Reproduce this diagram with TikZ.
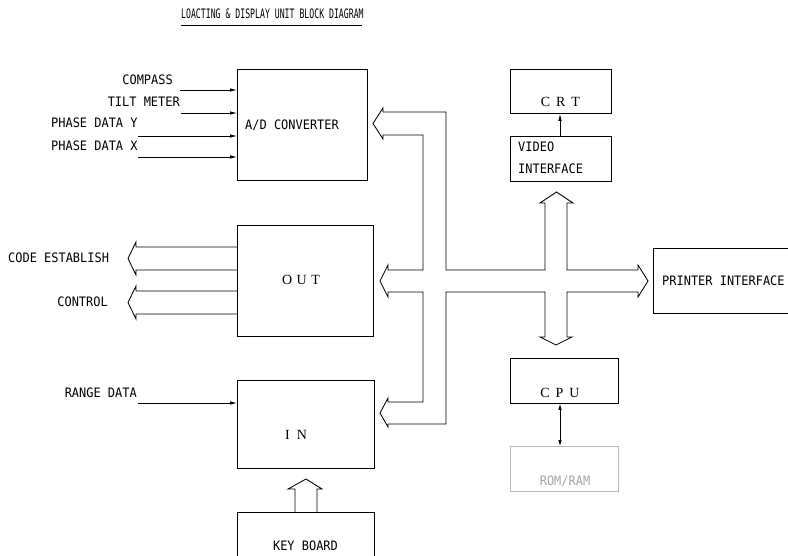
\documentclass[tikz,border=0pt]{standalone}
\usepackage{fontspec}
\setmainfont{Liberation Serif}
\newfontfamily\labfont[FakeStretch=0.92]{DejaVu Sans Mono}
\newfontfamily\titfont[FakeStretch=0.63]{DejaVu Sans Mono}
\usetikzlibrary{arrows.meta}
\begin{document}
\begin{tikzpicture}[x=1pt,y=-1pt,
  box/.style={draw, line width=0.9pt, rectangle, inner sep=0pt, anchor=north west},
  lab/.style={font=\labfont\fontsize{13}{15}\selectfont, inner sep=0pt},
  ser/.style={font=\fontsize{14}{16}\selectfont, inner sep=0pt},
  bus/.style={line width=0.85pt, line join=miter},
  sig/.style={line width=0.75pt, -{Latex[length=7pt,width=3.5pt]}},
]
\useasboundingbox (0,0) rectangle (788,556);
% title
\node[font=\titfont\fontsize{13}{15}\selectfont, inner sep=0pt, anchor=base west] (title) at (181,19) {LOACTING \& DISPLAY UNIT BLOCK DIAGRAM};
\draw[line width=0.7pt] (181,25) -- (362,25);
% boxes
\node[box, minimum width=130pt, minimum height=111pt] (adc) at (237,69) {};
\node[box, minimum width=136pt, minimum height=111pt] (out) at (237,225) {};
\node[box, minimum width=137pt, minimum height=88pt] (in) at (237,380) {};
\node[box, minimum width=137pt, minimum height=45pt] (kb) at (237,512) {};
\node[box, minimum width=101pt, minimum height=44pt] (crt) at (510,69) {};
\node[box, minimum width=101pt, minimum height=45pt] (vid) at (510,136) {};
\node[box, minimum width=136pt, minimum height=65pt] (prn) at (653,248) {};
\node[box, minimum width=108pt, minimum height=45pt] (cpu) at (510,358) {};
\node[box, draw=gray!55, minimum width=108pt, minimum height=45pt] (rom) at (510,446) {};
% texts
\node[lab, anchor=base east] (tcomp) at (173,85) {COMPASS};
\node[lab, anchor=base east] (ttilt) at (180,107) {TILT METER};
\node[lab, anchor=base west] (tpy) at (51,128) {PHASE DATA Y};
\node[lab, anchor=base west] (tpx) at (51,151) {PHASE DATA X};
\node[lab, anchor=base west] (tadc) at (245,130) {A/D CONVERTER};
\node[lab, anchor=base west] (tcode) at (8,263) {CODE ESTABLISH};
\node[lab, anchor=base east] (tctrl) at (108,307) {CONTROL};
\node[lab, anchor=base east] (trange) at (137,397) {RANGE DATA};
\node[lab, anchor=base] (tkb) at (305.5,550) {KEY BOARD};
\node[lab, anchor=base west] (tvid1) at (518,152) {VIDEO};
\node[lab, anchor=base west] (tvid2) at (518,174) {INTERFACE};
\node[lab, anchor=base west] (tprn) at (662,286) {PRINTER INTERFACE};
\node[lab, anchor=base, text=gray!70] (trom) at (565,485) {ROM/RAM};
\node[ser, anchor=base] (tcrt) at (560.5,107) {C\hspace{5.9pt}R\hspace{5.9pt}T};
\node[ser, anchor=base] (tout) at (301,285) {O\hspace{4.6pt}U\hspace{4.6pt}T};
\node[ser, anchor=base] (tin) at (296,439) {I\hspace{7.2pt}N};
\node[ser, anchor=base] (tcpu) at (560,397) {C\hspace{5.9pt}P\hspace{5.9pt}U};
% input signals
\draw[sig] (180,90) -- (adc.west |- 0,90);
\draw[sig] (181,113) -- (adc.west |- 0,113);
\draw[sig] (138,136) -- (adc.west |- 0,136);
\draw[sig] (138,157) -- (adc.west |- 0,157);
\draw[sig] (138,403) -- (in.west |- 0,403);
\draw[sig] (vid.north -| 560,0) -- (crt.south -| 560,0);
\draw[line width=0.6pt, {Latex[length=6pt,width=3.5pt]}-{Latex[length=6pt,width=3.5pt]}] (cpu.south -| 560,0) -- (rom.north -| 560,0);
% output wide arrows
\draw[bus] (out.west |- 0,247) -- (136,247) -- (136,242) -- (128,258.5) -- (136,275) -- (136,270) -- (out.west |- 0,270);
\draw[bus] (out.west |- 0,291) -- (136,291) -- (136,286) -- (128,302.5) -- (136,319) -- (136,314) -- (out.west |- 0,314);
% keyboard arrow
\draw[bus] (kb.north -| 295,0) -- (295,489) -- (288,489) -- (306,479) -- (322,489) -- (317,489) -- (kb.north -| 317,0);
% system bus
\draw[bus] (383,112) -- (446,112) -- (446,270) -- (545,270) -- (545,203) -- (540,203) -- (556.5,192) -- (573,203) -- (567,203) -- (567,270) -- (638,270) -- (638,265) -- (648,281) -- (638,297) -- (638,292) -- (567,292) -- (567,337) -- (572,337) -- (556,345) -- (540,337) -- (545,337) -- (545,292) -- (446,292) -- (446,424) -- (388,424) -- (388,427) -- (380,413) -- (388,398) -- (388,402) -- (423,402) -- (423,292) -- (388,292) -- (388,297) -- (380,281) -- (388,265) -- (388,270) -- (423,270) -- (423,135) -- (383,135) -- (383,139) -- (373,123.5) -- (383,108) -- cycle;
\end{tikzpicture}
\end{document}
